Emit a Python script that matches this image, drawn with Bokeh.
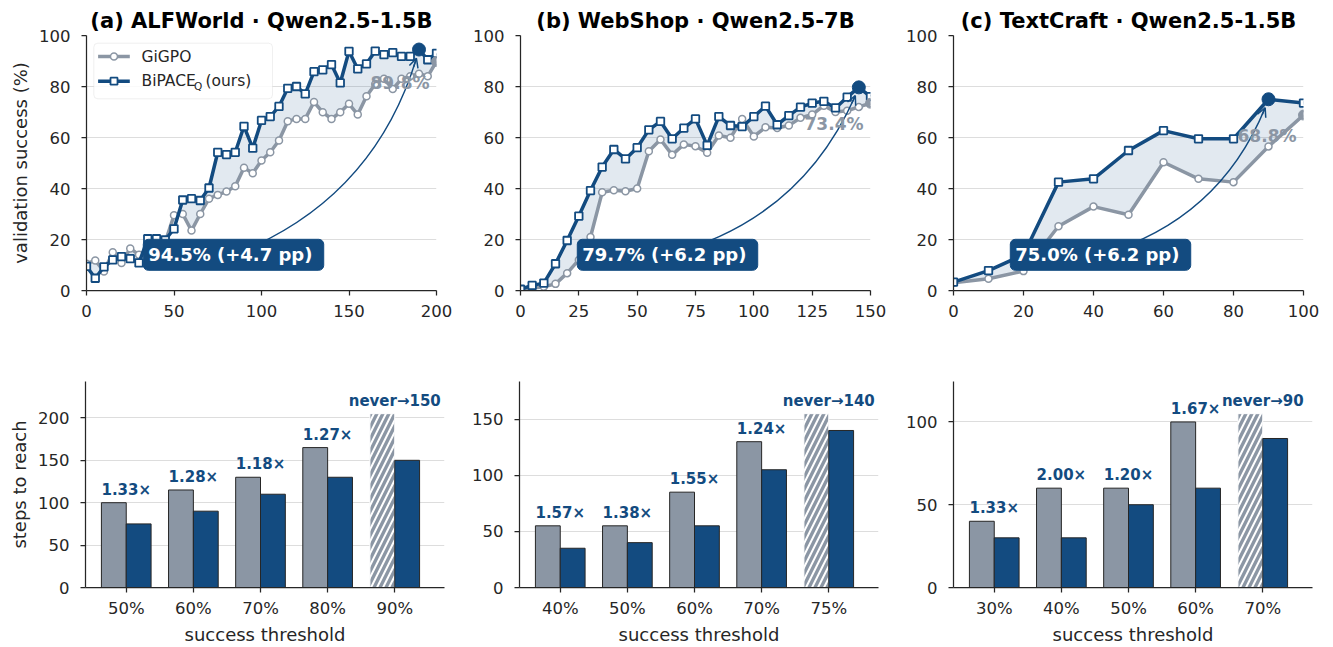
import math
from bokeh.plotting import figure
from bokeh.models import Range1d, FixedTicker, Label, Arrow, OpenHead, BoxAnnotation, ColumnDataSource
from bokeh.layouts import column, row
from bokeh.embed import file_html
from bokeh.resources import INLINE

FONT = "DejaVu Sans"
BLUE = "#134B80"
GRAY = "#8B96A4"
DARK = "#262626"
GRIDC = "#DDDDDD"

# ---------------- data ----------------
titles = ["(a) ALFWorld · Qwen2.5-1.5B", "(b) WebShop · Qwen2.5-7B", "(c) TextCraft · Qwen2.5-1.5B"]

alf_steps = list(range(0, 201, 5))
alf_gigpo = [10.5, 11.8, 7.5, 15.0, 10.8, 16.5, 14.0, 16.0, 17.0, 19.0, 29.5, 30.0, 23.5, 30.0,
             36.0, 37.5, 38.8, 40.9, 48.1, 46.0, 51.0, 54.2, 58.8, 66.4, 67.3, 67.3, 73.9, 69.9,
             67.3, 69.9, 73.2, 69.0, 76.2, 81.0, 83.0, 79.0, 83.0, 84.0, 85.0, 84.0, 89.8]
alf_bipace = [9.5, 4.8, 9.3, 12.0, 13.3, 12.5, 10.8, 20.3, 20.3, 19.8, 24.2, 35.5, 36.0, 35.3,
              40.2, 54.2, 53.3, 54.2, 64.4, 55.8, 66.7, 68.2, 72.2, 79.3, 80.0, 77.1, 85.8, 86.5,
              88.6, 81.4, 93.8, 86.9, 88.9, 93.9, 92.5, 93.3, 91.8, 91.8, 94.5, 90.5, 93.0]

web_steps = list(range(0, 151, 5))
web_gigpo = [0.3, 1.0, 1.5, 2.6, 6.8, 12.0, 21.0, 38.5, 39.3, 38.9, 40.0, 54.6, 59.2, 53.2, 57.3,
             56.6, 54.0, 60.8, 59.9, 67.3, 60.4, 64.0, 63.7, 64.7, 67.7, 69.0, 72.5, 70.0, 70.5,
             72.0, 73.44]
web_bipace = [0.5, 2.0, 2.9, 10.5, 19.6, 29.2, 39.2, 48.4, 55.3, 51.6, 56.0, 63.0, 66.3, 59.5,
              63.7, 67.3, 56.9, 68.2, 64.7, 64.3, 68.2, 72.3, 65.0, 68.6, 71.9, 73.5, 74.2, 71.6,
              75.8, 79.66, 76.0]

tc_steps = list(range(0, 101, 10))
tc_gigpo = [3.0, 4.6, 7.6, 25.2, 32.9, 29.7, 50.3, 43.8, 42.5, 56.5, 68.8]
tc_bipace = [3.3, 7.8, 14.0, 42.5, 43.8, 54.9, 62.7, 59.5, 59.5, 75.0, 73.5]

x_tick_steps = [50, 25, 20]

alf_thresholds = ["50%", "60%", "70%", "80%", "90%"]
alf_reach_gigpo = [100, 115, 130, 165, None]
alf_reach_bipace = [75, 90, 110, 130, 150]

web_thresholds = ["40%", "50%", "60%", "70%", "75%"]
web_reach_gigpo = [55, 55, 85, 130, None]
web_reach_bipace = [35, 40, 55, 105, 140]

tc_thresholds = ["30%", "40%", "50%", "60%", "70%"]
tc_reach_gigpo = [40, 60, 60, 100, None]
tc_reach_bipace = [30, 30, 50, 60, 90]

# ---------------- layout (page has no margin) ----------------
FW = 350
FH_TOP, FH_BOT = 255, 206
LB_T = [86, 67, 66]
RB_T = [17, 17, 20]
T_TOP, B_TOP = 35, 47
BAR_EXTRA = 9           # extra frame px on the right of the bar panels
FW_B = FW + BAR_EXTRA
LB_B = [85, 66, 66]
RB_B = [9, 9, 12]
T_BOT, B_BOT = 44, 60


def style(p, xticks, yticks):
    p.outline_line_color = None
    p.background_fill_color = "white"
    p.border_fill_color = "white"
    p.xgrid.grid_line_color = None
    p.ygrid.grid_line_color = GRIDC
    p.ygrid.grid_line_width = 1
    xt = FixedTicker(ticks=xticks)
    yt = FixedTicker(ticks=yticks)
    p.xaxis.ticker = xt
    p.yaxis.ticker = yt
    p.ygrid.ticker = yt
    for ax in [p.xaxis[0], p.yaxis[0]]:
        ax.axis_line_color = DARK
        ax.axis_line_width = 1.25
        ax.major_tick_line_color = DARK
        ax.major_tick_line_width = 1.25
        ax.major_tick_out = 5
        ax.major_tick_in = 0
        ax.minor_tick_line_color = None
        ax.major_label_text_font = FONT
        ax.major_label_text_font_size = "16.5px"
        ax.major_label_text_color = DARK
        ax.axis_label_text_font = FONT
        ax.axis_label_text_font_size = "18px"
        ax.axis_label_text_font_style = "normal"
        ax.axis_label_text_color = DARK
    p.yaxis.major_label_standoff = 11


def top_panel(i, steps, gig, bip, legend=False):
    xmax = steps[-1]
    p = figure(width=LB_T[i] + FW + RB_T[i], height=T_TOP + FH_TOP + B_TOP,
               x_range=Range1d(0, xmax), y_range=Range1d(0, 100),
               output_backend="svg", toolbar_location=None,
               min_border_left=LB_T[i], min_border_right=RB_T[i],
               min_border_top=T_TOP, min_border_bottom=B_TOP, title=titles[i])
    p.title.text_font = FONT
    p.title.text_font_size = "21px"
    p.title.text_font_style = "bold"
    p.title.text_color = "black"
    p.title.align = "center"
    p.title.standoff = 5
    style(p, list(range(0, xmax + 1, x_tick_steps[i])), list(range(0, 101, 20)))
    p.xaxis.major_label_standoff = 9
    if i == 0:
        p.yaxis.axis_label = "validation success (%)"
        p.yaxis.axis_label_standoff = 5

    def to_px(x, y):
        return x / xmax * FW, (100 - y) / 100 * FH_TOP

    def to_data(px, py):
        return px / FW * xmax, 100 - py / FH_TOP * 100

    src = ColumnDataSource(dict(x=steps, g=gig, b=bip))
    p.varea(x="x", y1="g", y2="b", source=src, fill_color=BLUE, fill_alpha=0.12)
    p.line("x", "g", source=src, line_color=GRAY, line_width=3.5)
    p.scatter("x", "g", source=src, marker="circle", size=7, fill_color="white",
              line_color=GRAY, line_width=1.5)
    p.line("x", "b", source=src, line_color=BLUE, line_width=3.5)
    p.scatter("x", "b", source=src, marker="square", size=7.5, fill_color="white",
              line_color=BLUE, line_width=1.8)

    ib = max(range(len(bip)), key=lambda k: bip[k])
    bx, by = steps[ib], bip[ib]
    gx, gy = steps[-1], gig[-1]
    p.scatter([gx], [gy], marker="circle", size=10, fill_color=GRAY, line_color=GRAY)
    p.scatter([bx], [by], marker="circle", size=13, fill_color=BLUE, line_color=BLUE)

    # gray final-value label
    p.add_layout(Label(x=gx, y=gy, x_offset=-7, y_offset=-21, text=f"{gy:.1f}%",
                       text_align="right", text_baseline="middle", text_font=FONT,
                       text_font_size="17px", text_font_style="bold", text_color=GRAY))

    # curved arrow from the label box to the best point
    lx, ly = 0.42 * xmax, 14
    S = to_px(lx, ly)
    E = to_px(bx, by)
    dx, dy = E[0] - S[0], E[1] - S[1]
    rad = 0.25
    C = ((S[0] + E[0]) / 2 - rad * dy, (S[1] + E[1]) / 2 + rad * dx)

    def B(t):
        return ((1 - t) ** 2 * S[0] + 2 * t * (1 - t) * C[0] + t * t * E[0],
                (1 - t) ** 2 * S[1] + 2 * t * (1 - t) * C[1] + t * t * E[1])

    t1 = 1.0
    while t1 > 0.5:
        q = B(t1)
        if math.hypot(q[0] - E[0], q[1] - E[1]) >= 9:
            break
        t1 -= 0.002
    C1 = ((1 - t1) * S[0] + t1 * C[0], (1 - t1) * S[1] + t1 * C[1])
    E1 = B(t1)
    Sd, Cd, Ed = to_data(*S), to_data(*C1), to_data(*E1)
    p.quadratic(x0=[Sd[0]], y0=[Sd[1]], x1=[Ed[0]], y1=[Ed[1]], cx=[Cd[0]], cy=[Cd[1]],
                line_color=BLUE, line_width=1.5)
    P0 = to_data(*B(t1 - 0.03))
    p.add_layout(Arrow(end=OpenHead(size=9, line_color=BLUE, line_width=1.5),
                       x_start=P0[0], y_start=P0[1], x_end=Ed[0], y_end=Ed[1],
                       line_color=BLUE, line_width=1.5))

    p.add_layout(Label(x=lx, y=ly, text=f"{by:.1f}%  (+{by - gy:.1f} pp)",
                       text_align="center", text_baseline="middle", text_font=FONT,
                       text_font_size="18px", text_font_style="bold", text_color="white",
                       background_fill_color=BLUE, background_fill_alpha=1.0,
                       border_line_color=BLUE, border_radius=5, padding=5))

    if legend:
        bl, bt = to_data(7.3, 7.7)
        br, bb = to_data(186.0, 63.3)
        p.add_layout(BoxAnnotation(left=bl, right=br, top=bt, bottom=bb, fill_color="white",
                                   fill_alpha=0.85, line_color="#CCCCCC", line_width=1,
                                   border_radius=4, level="underlay"))
        entries = [("GiGPO", GRAY, "circle", 1.5), ("BiPACE", BLUE, "square", 1.8)]
        for k, (name, col, mk, lw) in enumerate(entries):
            ry = 21 + 24.7 * k
            x0, yy = to_data(11.6, ry)
            x1, _ = to_data(43.3, ry)
            xm, _ = to_data(27.5, ry)
            xt, _ = to_data(55.0, ry)
            p.line([x0, x1], [yy, yy], line_color=col, line_width=3.5)
            p.scatter([xm], [yy], marker=mk, size=7, fill_color="white", line_color=col,
                      line_width=lw)
            p.add_layout(Label(x=xt, y=yy, text=name, text_align="left", text_baseline="middle",
                               text_font=FONT, text_font_size="15.5px", text_color=DARK))
            if name == "BiPACE":
                p.add_layout(Label(x=xt, y=yy, x_offset=52.5, y_offset=-5, text="Q",
                                   text_align="left", text_baseline="middle", text_font=FONT,
                                   text_font_size="10.5px", text_color=DARK))
                p.add_layout(Label(x=xt, y=yy, x_offset=64, text="(ours)",
                                   text_align="left", text_baseline="middle", text_font=FONT,
                                   text_font_size="15.5px", text_color=DARK))
    return p


def bar_panel(i, labels, gig, bip, horizon):
    n = len(labels)
    idx = list(range(n))
    never_h = horizon + 5
    ytop = never_h * 1.185
    xlo, xhi = -0.607, n - 1 + 0.607
    xhi_ext = xhi + BAR_EXTRA / FW * (xhi - xlo)
    p = figure(width=LB_B[i] + FW_B + RB_B[i], height=T_BOT + FH_BOT + B_BOT,
               x_range=Range1d(xlo, xhi_ext), y_range=Range1d(0, ytop),
               output_backend="svg", toolbar_location=None,
               min_border_left=LB_B[i], min_border_right=RB_B[i],
               min_border_top=T_BOT, min_border_bottom=B_BOT)
    style(p, idx, list(range(0, int(ytop) + 1, 50)))
    p.xaxis.major_label_standoff = 6
    p.xaxis.major_label_overrides = {k: labels[k] for k in idx}
    p.xaxis.axis_label = "success threshold"
    p.xaxis.axis_label_standoff = 3
    if i == 0:
        p.yaxis.axis_label = "steps to reach"
        p.yaxis.axis_label_standoff = 5

    w = 0.37
    gx = [k - w / 2 for k in idx if gig[k] is not None]
    gv = [gig[k] for k in idx if gig[k] is not None]
    nx = [k - w / 2 for k in idx if gig[k] is None]
    p.vbar(x=gx, top=gv, width=w, fill_color=GRAY, line_color=DARK, line_width=1)
    p.vbar(x=nx, top=[never_h] * len(nx), width=w, fill_color=GRAY, line_color="white",
           line_width=1, hatch_pattern="/", hatch_color="white", hatch_weight=2,
           hatch_scale=12)
    p.vbar(x=[k + w / 2 for k in idx], top=bip, width=w, fill_color=BLUE, line_color=DARK,
           line_width=1)
    for k in idx:
        if gig[k] is None:
            txt, yv = f"never\u2192{bip[k]}", never_h
        else:
            txt, yv = f"{gig[k] / bip[k]:.2f}\u00d7", max(gig[k], bip[k])
        p.add_layout(Label(x=k, y=yv, y_offset=4, text=txt, text_align="center",
                           text_baseline="bottom", text_font=FONT, text_font_size="15px",
                           text_font_style="bold", text_color=BLUE))
    return p


tops = [top_panel(0, alf_steps, alf_gigpo, alf_bipace, legend=True),
        top_panel(1, web_steps, web_gigpo, web_bipace),
        top_panel(2, tc_steps, tc_gigpo, tc_bipace)]
bots = [bar_panel(0, alf_thresholds, alf_reach_gigpo, alf_reach_bipace, alf_steps[-1]),
        bar_panel(1, web_thresholds, web_reach_gigpo, web_reach_bipace, web_steps[-1]),
        bar_panel(2, tc_thresholds, tc_reach_gigpo, tc_reach_bipace, tc_steps[-1])]

layout = column(row(*tops), row(*bots))
open("out.html", "w").write(file_html(layout, INLINE, "BiPACE"))
